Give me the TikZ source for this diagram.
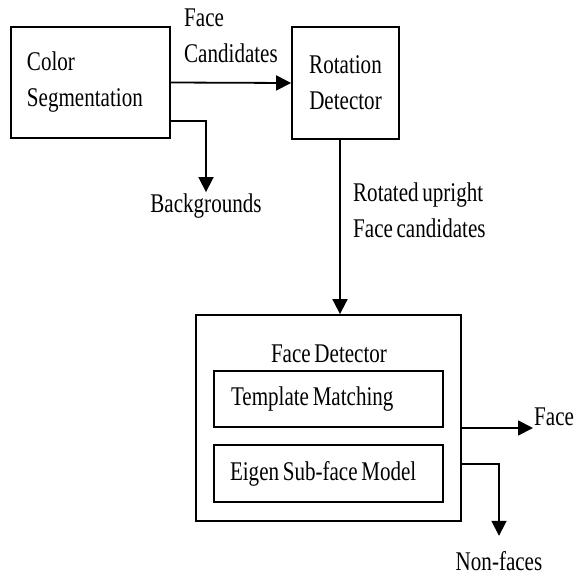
\documentclass[tikz,border=0pt]{standalone}
\usepackage{fontspec}
\setmainfont{Liberation Serif}[FakeStretch=0.78, WordSpace=0.7]
\usetikzlibrary{arrows.meta,positioning}

\begin{document}
\begin{tikzpicture}[x=1pt, y=-1pt,
    box/.style={draw, line width=1.8pt, inner sep=0pt, font=\fontsize{27}{36}\selectfont},
    lbl/.style={font=\fontsize{27}{36}\selectfont, inner sep=1pt},
    arr/.style={line width=1.8pt, -{Triangle[length=15pt, width=15pt]}}]
    \useasboundingbox (0,0) rectangle (587,576);

    % Blocchi in alto
    \node[box, minimum width=159pt, minimum height=111pt, text width=127pt, align=flush left] (cs) at (90.5,82.5) {Color\\Segmentation};
    \node[box, minimum width=107pt, minimum height=112pt, align=center] (rd) at (345.5,83) {Rotation\\Detector};

    % Blocco del rivelatore
    \node[box, minimum width=265pt, minimum height=206pt] (fd) at (328.5,418) {};
    \node[lbl, anchor=base] (fdl) at (329,362) {Face Detector};
    \node[box, minimum width=229pt, minimum height=56pt, text width=195pt, align=flush left] (tm) at (328.5,399) {Template Matching};
    \node[box, minimum width=229pt, minimum height=57pt, text width=197pt, align=flush left] (es) at (328.5,473.5) {Eigen Sub-face Model};

    % Etichette
    \node[lbl, anchor=west, align=left] (fc) at (183,36) {Face\\Candidates};
    \node[lbl, anchor=west, align=left] (ru) at (352,210) {Rotated upright\\Face candidates};
    \node[lbl, anchor=base] (bg) at (206,212) {Backgrounds};
    \node[lbl, anchor=base west] (fa) at (533,425) {Face};
    \node[lbl, anchor=base] (nf) at (499,570) {Non-faces};

    % Frecce
    \draw[arr] (cs.east) -- (rd.west);
    \draw[arr] ([yshift=-38.5pt]cs.east) -| (bg.north);
    \draw[arr] ([xshift=-5.5pt]rd.south) -- ([xshift=-5.5pt]rd.south |- fd.north);
    \draw[arr] ([yshift=-10pt]fd.east) -- ([yshift=-10pt]fd.east -| fa.west);
    \draw[arr] ([yshift=-46pt]fd.east) -| ([yshift=14pt]nf.north);
\end{tikzpicture}
\end{document}
